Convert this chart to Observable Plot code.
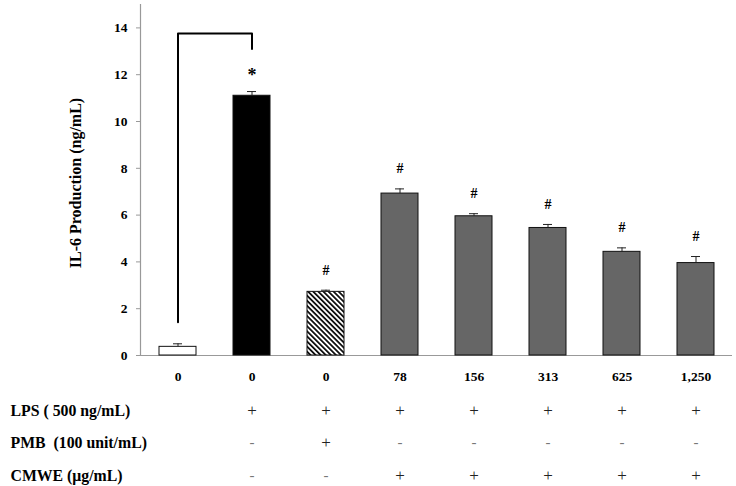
<!DOCTYPE html>
<html>
<head>
<meta charset="utf-8">
<script src="https://cdn.jsdelivr.net/npm/d3@7"></script>
<script src="https://cdn.jsdelivr.net/npm/@observablehq/plot@0.6"></script>
<style>
  html, body { margin: 0; padding: 0; background: #fff; }
  #chart svg { display: block; }
</style>
</head>
<body>
<div id="chart"></div>
<script>
// ---- data ----
const doseLabels = ["0", "0", "0", "78", "156", "313", "625", "1,250"];
const il6Values  = [0.37, 11.1, 2.72, 6.92, 5.95, 5.45, 4.43, 3.95];
const il6Errors  = [0.13, 0.18, 0.07, 0.2, 0.11, 0.15, 0.17, 0.28];
const signif     = ["", "*", "#", "#", "#", "#", "#", "#"];
const lpsRow     = ["", "+", "+", "+", "+", "+", "+", "+"];
const pmbRow     = ["", "-", "+", "-", "-", "-", "-", "-"];
const cmweRow    = ["", "-", "-", "+", "+", "+", "+", "+"];
const rowNames   = ["LPS ( 500 ng/mL)", "PMB  (100 unit/mL)", "CMWE (\u03bcg/mL)"];
const yTicks     = [0, 2, 4, 6, 8, 10, 12, 14];
const yLabel     = "IL-6 Production (ng/mL)";
// significance bracket between group 0 and group 1
const bracketX   = [0, 0, 1, 1];
const bracketY   = [1.42, 13.76, 13.76, 13.1];

const data = doseLabels.map((dose, i) => ({
  i, dose, v: il6Values[i], e: il6Errors[i], s: signif[i],
  lps: lpsRow[i], pmb: pmbRow[i], cmwe: cmweRow[i]
}));
const bracket = bracketX.map((x, k) => ({x, y: bracketY[k]}));

const barFill = d => d.i === 0 ? "white" : d.i === 1 ? "black" : d.i === 2 ? "url(#hatch)" : "#666666";
const serif = "'Liberation Serif', 'Times New Roman', serif";

const signText = (key, dy) => Plot.text(data.filter(d => d[key] !== ""), {
  x: "i", text: key, frameAnchor: "bottom", dy, lineAnchor: "middle",
  fontSize: d => d[key] === "+" ? 17 : 15,
  fill: d => d[key] === "+" ? "#222" : "#777",
  fontWeight: "normal"
});
const rowText = (k, dy) => Plot.text([rowNames[k]], {
  frameAnchor: "bottom-left", dx: -130, dy, textAnchor: "start", lineAnchor: "middle",
  fontSize: 15.8, fontWeight: "bold"
});

const chart = Plot.plot({
  width: 736,
  height: 486,
  marginLeft: 140,
  marginRight: 4,
  marginTop: 4,
  marginBottom: 131,
  style: {fontFamily: serif, color: "#000", background: "#fff"},
  x: {type: "band", domain: d3.range(doseLabels.length), paddingInner: 0.5, paddingOuter: 0.25, axis: null},
  y: {domain: [0, 15], axis: null},
  marks: [
    Plot.ruleY([0], {stroke: "#999", strokeWidth: 1.2}),
    Plot.frame({anchor: "left", stroke: "#999", strokeWidth: 1.2}),
    Plot.axisY({ticks: yTicks, tickSize: 4, tickPadding: 9, stroke: "#999",
      fontSize: 13.5, fontWeight: "bold", label: null}),
    Plot.barY(data, {x: "i", y: "v", fill: barFill, stroke: "#111", strokeWidth: 1}),
    Plot.ruleX(data, {x: "i", y1: "v", y2: d => d.v + d.e, stroke: "#222", strokeWidth: 1}),
    Plot.tickY(data, {x: "i", y: d => d.v + d.e, stroke: "#222", strokeWidth: 1, insetLeft: 14, insetRight: 14}),
    Plot.text(data.filter(d => d.s === "*"), {x: "i", y: d => d.v + d.e, text: "s", dy: -16, lineAnchor: "middle", fontWeight: "bold", fontSize: 18}),
    Plot.text(data.filter(d => d.s === "#"), {x: "i", y: d => d.v + d.e, text: "s", dy: -20, lineAnchor: "middle", fontWeight: "bold", fontSize: 14}),
    Plot.line(bracket, {x: "x", y: "y", stroke: "#000", strokeWidth: 2}),
    Plot.text(data, {x: "i", text: "dose", frameAnchor: "bottom", dy: 21, lineAnchor: "middle", fontSize: 13.5, fontWeight: "bold"}),
    Plot.text([yLabel], {frameAnchor: "left", dx: -65, dy: 3, rotate: -90, textAnchor: "middle", lineAnchor: "middle", fontSize: 16, fontWeight: "bold"}),
    rowText(0, 55),
    rowText(1, 87),
    rowText(2, 120),
    signText("lps", 55),
    signText("pmb", 87),
    signText("cmwe", 120)
  ]
});

// hatch pattern for the PMB bar
const svg = d3.select(chart);
const defs = svg.insert("defs", ":first-child");
const pat = defs.append("pattern")
  .attr("id", "hatch")
  .attr("patternUnits", "userSpaceOnUse")
  .attr("width", 3.6).attr("height", 3.6)
  .attr("patternTransform", "rotate(-45)");
pat.append("rect").attr("width", 3.6).attr("height", 3.6).attr("fill", "white");
pat.append("rect").attr("width", 1.8).attr("height", 3.6).attr("fill", "#111");

document.getElementById("chart").appendChild(chart);
</script>
</body>
</html>
